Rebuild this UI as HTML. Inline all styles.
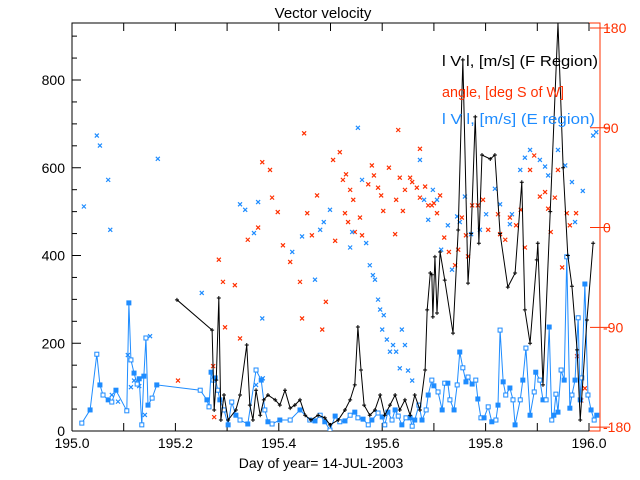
<!DOCTYPE html>
<html><head><meta charset="utf-8"><style>
html,body{margin:0;padding:0;background:#fff;}
svg{display:block;font-family:"Liberation Sans",sans-serif;}
</style></head><body>
<svg id="chart" width="640" height="480" viewBox="0 0 640 480" xmlns="http://www.w3.org/2000/svg">
<rect width="640" height="480" fill="#fff"/>
<text x="323" y="18" font-size="15" text-anchor="middle" fill="#000">Vector velocity</text>
<text x="321" y="468" font-size="14" text-anchor="middle" fill="#000">Day of year= 14-JUL-2003</text>
<g id="axes"></g>
<g id="plot"></g>
<g>
<text x="442" y="66" font-size="15" textLength="156" lengthAdjust="spacingAndGlyphs" fill="#000">l V l, [m/s] (F Region)</text>
<text x="442" y="97" font-size="15" textLength="122" lengthAdjust="spacingAndGlyphs" fill="#ff3000">angle, [deg S of W]</text>
<text x="442" y="124" font-size="15" textLength="153" lengthAdjust="spacingAndGlyphs" fill="#1e8cff">l V l, [m/s] (E region)</text>
</g>
</svg>
<script>
// ---- data ----
const fDay=[.203,.271,.275,.279,.284,.288,.294,.302,.317,.325,.338,.344,.350,.356,.364,.371,.379,.393,.402,.412,.422,.431,.441,.451,.462,.476,.489,.499,.515,.528,.538,.547,.553,.559,.565,.576,.586,.596,.605,.615,.625,.634,.644,.654,.663,.673,.683,.687,.693,.696,.698,.702,.706,.712,.721,.737,.747,.756,.766,.772,.780,.787,.793,.809,.818,.828,.843,.857,.870,.876,.886,.899,.901,.911,.925,.940,.950,.959,.967,.977,.983,.996,1.008];
const fSpeed=[299,230,48,116,303,25,82,25,48,82,196,59,25,93,36,71,82,71,59,93,52,59,71,36,25,36,30,14,25,48,71,105,237,139,59,36,48,82,36,59,82,48,71,36,82,48,139,276,360,356,260,397,269,408,344,223,458,846,337,450,716,428,629,620,629,450,328,360,567,276,200,390,428,105,500,930,600,400,330,185,25,253,428];
const eDay=[.019,.035,.048,.054,.060,.070,.077,.085,.106,.110,.114,.120,.126,.130,.135,.139,.143,.147,.155,.164,.248,.261,.265,.269,.273,.277,.282,.286,.294,.302,.309,.317,.325,.340,.356,.366,.373,.379,.387,.402,.422,.441,.460,.470,.480,.489,.499,.509,.518,.528,.538,.547,.553,.563,.573,.580,.592,.600,.605,.611,.619,.625,.631,.638,.646,.654,.658,.663,.671,.677,.685,.689,.696,.700,.708,.716,.721,.727,.731,.739,.745,.750,.756,.762,.766,.774,.781,.785,.791,.797,.805,.812,.820,.824,.828,.834,.839,.847,.853,.857,.867,.872,.878,.886,.894,.897,.905,.911,.917,.923,.928,.932,.936,.940,.946,.952,.957,.963,.967,.973,.979,.983,.986,.992,.998,1.004,1.010,1.015];
const eSpeed=[18,48,175,105,82,71,66,93,46,292,162,132,107,119,14,125,212,59,75,105,93,71,55,134,116,121,93,71,48,14,66,36,25,16,139,116,48,21,16,25,25,48,25,23,36,21,2,34,21,23,36,43,30,27,14,25,41,32,14,43,25,48,34,14,30,30,11,25,59,25,48,82,116,103,89,48,109,109,71,48,105,180,144,112,123,107,116,73,30,30,55,21,25,59,230,112,82,98,71,14,71,116,189,36,89,134,116,71,71,237,25,36,84,43,139,116,397,52,82,116,258,71,121,335,82,48,25,36];
const aDay=[.205,.275,.273,.284,.292,.296,.315,.325,.340,.360,.368,.383,.387,.398,.408,.422,.441,.449,.455,.445,.464,.474,.484,.491,.505,.509,.518,.524,.530,.538,.544,.528,.534,.547,.557,.561,.573,.580,.584,.592,.598,.602,.613,.625,.627,.634,.640,.644,.654,.658,.667,.673,.683,.689,.696,.700,.706,.712,.720,.729,.741,.747,.754,.762,.766,.774,.785,.795,.805,.824,.828,.838,.847,.859,.868,.876,.886,.894,.905,.915,.921,.926,.934,.940,.948,.957,.963,.975,.977,.985,.992,.631,.673];
const aAngle=[-138,-171,-125,-29,-49,-90,-52,-100,-11,0,59,52,27,14,-16,-31,-49,85,13,-82,-7,29,-92,-67,61,-12,68,43,48,34,25,13,5,-4,9,-7,39,56,47,36,29,15,54,-6,25,45,15,34,45,41,36,27,37,20,20,22,13,29,-9,-22,-34,-20,9,-7,-26,20,20,25,-2,12,-6,-11,9,2,16,-18,52,65,28,32,17,-4,27,52,-36,13,2,13,-116,-156,-145,88,71];
const bDay=[.023,.048,.054,.070,.074,.166,.089,.077,.108,.114,.120,.130,.151,.141,.251,.325,.335,.352,.360,.368,.356,.369,.426,.445,.470,.480,.487,.499,.538,.542,.553,.561,.569,.576,.582,.586,.592,.596,.600,.603,.609,.615,.621,.627,.634,.638,.644,.650,.658,.673,.681,.689,.698,.706,.714,.727,.735,.745,.750,.760,.772,.789,.801,.818,.828,.847,.851,.867,.876,.886,.905,.915,.921,.940,.954,.967,.973,.988,1.008,1.014];
const bAngle=[19,83,74,43,-2,62,-157,-151,-115,-144,-138,-143,-98,-169,-59,21,16,-5,23,-82,-142,-136,-22,-8,-47,-2,5,16,-18,-4,90,43,-14,-34,-43,-47,-65,-74,-92,-79,-101,-112,-106,-112,-127,-92,-106,-129,-138,61,25,7,34,25,-20,2,-38,10,5,28,-6,-2,12,35,21,3,12,52,63,70,61,55,47,70,56,41,5,33,83,86];
const xTicks=[195.0,195.2,195.4,195.6,195.8,196.0];
const yTicks=[0,200,400,600,800];
const rTicks=[180,90,0,-90,-180];
// ---- scales ----
const X0=72,XR=600,YT=23,YB=431;
const xs=v=>X0+(v)*517;
const ys=v=>YB-v*0.43875;
const as=v=>28+(180-v)/0.902;
const NS="http://www.w3.org/2000/svg";
function mk(tag,attrs,parent){const e=document.createElementNS(NS,tag);for(const k in attrs)e.setAttribute(k,attrs[k]);parent.appendChild(e);return e;}
const axes=document.getElementById('axes'),plot=document.getElementById('plot');
let fr=mk('path',{d:`M${X0},${YB}V${YT}H${XR-11}M${X0},${YB}H${XR-11}`,stroke:'#000',fill:'none','stroke-width':1},axes);


let ra=mk('path',{d:`M${XR-11},${YT}H${XR}V${YB}H${XR-11}`,stroke:'#ff3000',fill:'none','stroke-width':1},axes);


for(let i=0;i<=10;i++){const x=xs(i*0.1);
 mk('path',{d:`M${x},${YB}v-8M${x},${YT}v8`,stroke:'#000'},axes);}
xTicks.forEach(t=>{const t1=mk('text',{x:xs(t-195),y:448,'font-size':14,'text-anchor':'middle',fill:'#000'},axes);t1.textContent=t.toFixed(1);
 
 });
for(let v=0;v<=900;v+=50){const y=ys(v);mk('path',{d:`M${X0},${y}h${v%200===0?9:5}`,stroke:'#000'},axes);}
yTicks.forEach(t=>{const t1=mk('text',{x:65,y:ys(t)+5,'font-size':14,'text-anchor':'end',fill:'#000'},axes);t1.textContent=t;
 
 });
rTicks.forEach(t=>{const y=as(t);mk('path',{d:`M${XR-10},${y}h20`,stroke:'#ff3000'},axes);
 const t1=mk('text',{x:603,y:y+5,'font-size':14,fill:'#ff3000'},axes);t1.textContent=t;
 
 });
const defs=mk('defs',{},plot);const cp=mk('clipPath',{id:'cp'},defs);mk('rect',{x:X0,y:YT,width:XR-X0,height:YB-YT},cp);
const g=mk('g',{'clip-path':'url(#cp)'},plot);
function xm(x,y,c,parent,name){const p=mk('path',{d:`M${x-2},${y-2}l4,4M${x+2},${y-2}l-4,4`,stroke:c,'stroke-width':1.2},parent);
 
 }
aDay.forEach((d,i)=>xm(xs(d),as(aAngle[i]),'#ff3000',g,'angle-point'));
bDay.forEach((d,i)=>xm(xs(d),as(bAngle[i]),'#1e8cff',g,'e-angle-point'));
let ep=mk('polyline',{points:eDay.map((d,i)=>xs(d)+','+ys(eSpeed[i])).join(' '),fill:'none',stroke:'#1e8cff','stroke-width':1},g);


eDay.forEach((d,i)=>{const r=mk('rect',{x:xs(d)-2,y:ys(eSpeed[i])-2,width:4,height:4,fill:i%2?'#1e8cff':'#fff',stroke:'#1e8cff','stroke-width':1},g);
 
 });
let fp=mk('polyline',{points:fDay.map((d,i)=>xs(d)+','+ys(fSpeed[i])).join(' '),fill:'none',stroke:'#000','stroke-width':1},g);


fDay.forEach((d,i)=>{const x=xs(d),y=ys(fSpeed[i]);const p=mk('path',{d:`M${x-2},${y}h4M${x},${y-2}v4`,stroke:'#000','stroke-width':1},g);
 
 });
</script>
</body></html>
